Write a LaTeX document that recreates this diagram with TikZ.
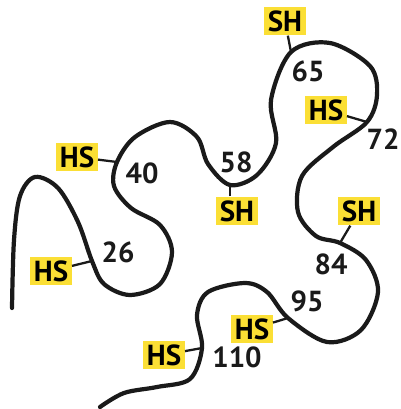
\documentclass[tikz,border=0pt]{standalone}
\usepackage{fontspec}
\setmainfont{PT Sans}
\definecolor{cyellow}{HTML}{FBDF35}
\definecolor{cchain}{HTML}{1A1A1A}
\tikzset{
  every picture/.style={font=\bfseries\fontsize{16.5}{16.5}\selectfont},
  chain/.style={draw=cchain, line width=2.4pt, line cap=round},
  tick/.style={draw=cchain, line width=1.3pt},
  group/.style={fill=cyellow, inner xsep=2pt, inner ysep=2.4pt, text height=11.5pt, text depth=0pt},
  resnum/.style={inner sep=0pt, text=cchain},
}
\begin{document}
\begin{tikzpicture}[x=0.02cm, y=-0.02cm]
  \useasboundingbox (0,0) rectangle (401,409);
  % attachment points on the chain
  \coordinate (c26) at (92,261);
  \coordinate (c40) at (117,162);
  \coordinate (c58) at (230,185);
  \coordinate (c65) at (291,52);
  \coordinate (c72) at (367,122);
  \coordinate (c84) at (340,243);
  \coordinate (c95) at (288,318);
  \coordinate (c110) at (202,348);
  % the chain
  \draw[chain] plot[smooth, tension=0.55] coordinates {
    (12,308) (14,240) (20,196) (35,177) (58,188) (78,222) (c26) (104,284)
    (130,295) (160,284) (172,252) (160,225) (131,208) (114,186) (c40)
    (135,137) (170,122) (197,137) (208,164) (c58) (257,175) (276,143)
    (271,100) (c65) (330,43) (370,66) (377,95) (c72) (333,147) (302,176)
    (298,212) (316,236) (c84) (366,260) (378,292) (361,330) (327,342)
    (c95) (267,292) (245,283) (208,292) (197,315) (c110) (190,379)
    (157,387) (124,393) (100,407)};
  % side groups
  \node[group] (hs26) at (51,271) {HS};
  \node[group] (hs40) at (77,157) {HS};
  \node[group] (sh58) at (237,211) {SH};
  \node[group] (sh65) at (285,21) {SH};
  \node[group] (hs72) at (326,110) {HS};
  \node[group] (sh84) at (359,211) {SH};
  \node[group] (hs95) at (252,329) {HS};
  \node[group] (hs110) at (164,355) {HS};
  \draw[tick] (hs26) -- (c26);
  \draw[tick] (hs40) -- (c40);
  \draw[tick] (sh58.north -| c58) -- (c58);
  \draw[tick] (sh65) -- (c65);
  \draw[tick] (hs72) -- (c72);
  \draw[tick] (sh84) -- (c84);
  \draw[tick] (hs95) -- (c95);
  \draw[tick] (hs110) -- (c110);
  % residue numbers
  \node[resnum] (n26) at (118,252) {26};
  \node[resnum] (n40) at (142,173) {40};
  \node[resnum] (n58) at (236,162) {58};
  \node[resnum] (n65) at (308,71) {65};
  \node[resnum] (n72) at (383,139) {72};
  \node[resnum] (n84) at (331,264) {84};
  \node[resnum] (n95) at (307,301) {95};
  \node[resnum] (n110) at (237,357) {110};
\end{tikzpicture}
\end{document}
